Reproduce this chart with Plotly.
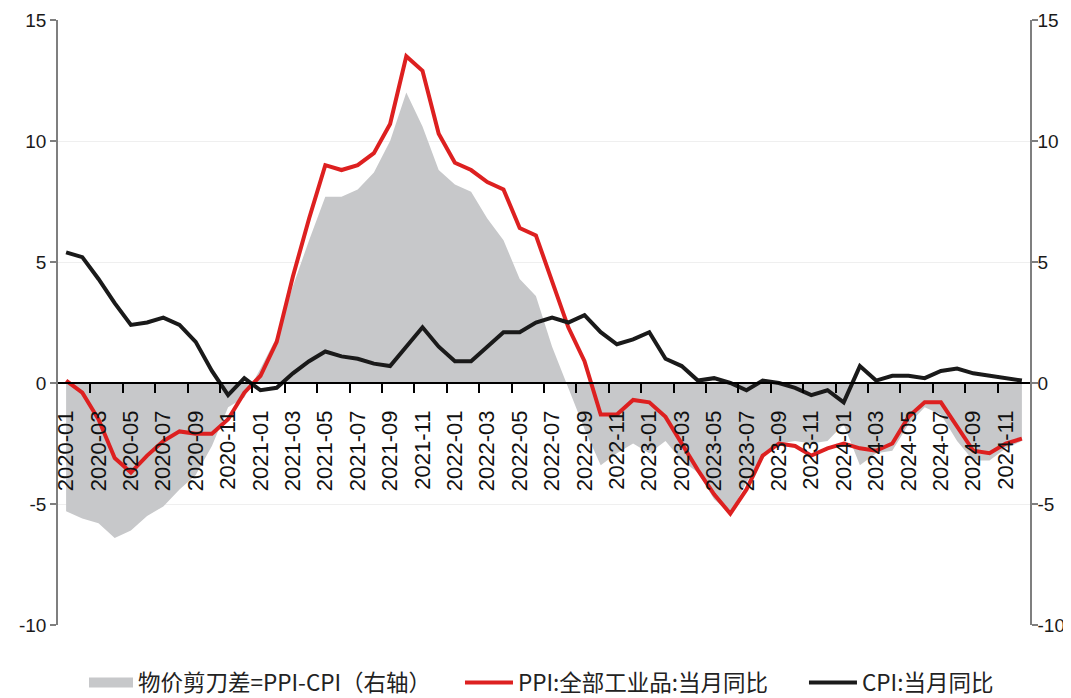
import pandas as pd
import plotly.graph_objects as go

# Monthly series, 2020-01 .. 2024-12
months = [p.strftime("%Y-%m") for p in pd.period_range("2020-01", "2024-12", freq="M")]

# PPI: industrial products, YoY (%)
ppi = [0.1, -0.4, -1.5, -3.1, -3.7, -3.0, -2.4, -2.0, -2.1, -2.1, -1.5, -0.4,
       0.3, 1.7, 4.4, 6.8, 9.0, 8.8, 9.0, 9.5, 10.7, 13.5, 12.9, 10.3,
       9.1, 8.8, 8.3, 8.0, 6.4, 6.1, 4.2, 2.3, 0.9, -1.3, -1.3, -0.7,
       -0.8, -1.4, -2.5, -3.6, -4.6, -5.4, -4.4, -3.0, -2.5, -2.6, -3.0, -2.7,
       -2.5, -2.7, -2.8, -2.5, -1.4, -0.8, -0.8, -1.8, -2.8, -2.9, -2.5, -2.3]

# CPI YoY (%)
cpi = [5.4, 5.2, 4.3, 3.3, 2.4, 2.5, 2.7, 2.4, 1.7, 0.5, -0.5, 0.2,
       -0.3, -0.2, 0.4, 0.9, 1.3, 1.1, 1.0, 0.8, 0.7, 1.5, 2.3, 1.5,
       0.9, 0.9, 1.5, 2.1, 2.1, 2.5, 2.7, 2.5, 2.8, 2.1, 1.6, 1.8,
       2.1, 1.0, 0.7, 0.1, 0.2, 0.0, -0.3, 0.1, 0.0, -0.2, -0.5, -0.3,
       -0.8, 0.7, 0.1, 0.3, 0.3, 0.2, 0.5, 0.6, 0.4, 0.3, 0.2, 0.1]

# price scissors gap PPI-CPI (right axis)
gap = [-5.3, -5.6, -5.8, -6.4, -6.1, -5.5, -5.1, -4.4, -3.8, -2.6, -1.0, -0.6,
       0.6, 1.9, 4.0, 5.9, 7.7, 7.7, 8.0, 8.7, 10.0, 12.0, 10.6, 8.8,
       8.2, 7.9, 6.8, 5.9, 4.3, 3.6, 1.5, -0.2, -1.9, -3.4, -2.9, -2.5,
       -2.9, -2.4, -3.2, -3.7, -4.8, -5.4, -4.1, -3.1, -2.5, -2.4, -2.5, -2.4,
       -1.7, -3.4, -2.9, -2.8, -1.7, -1.0, -1.3, -2.4, -3.2, -3.2, -2.7, -2.4]

y_ticks = [-10, -5, 0, 5, 10, 15]
y_text = ["-10", "-5", "0", "5", "10", "15"]

idx = list(range(len(months)))
GRAY = "#c7c8ca"
RED = "#dd2020"
BLACK = "#1a1a1a"
FONT = "Liberation Sans, Arial, sans-serif"
CJK = "Noto Sans CJK SC"

fig = go.Figure()

# gap area on the right axis (base axis, so it stays under the lines)
fig.add_trace(go.Scatter(x=idx, y=gap, mode="lines", fill="tozeroy",
                         fillcolor=GRAY, line=dict(width=0, color=GRAY),
                         showlegend=False, hoverinfo="skip"))
# legend entry for the area
fig.add_trace(go.Scatter(x=[None], y=[None], mode="lines",
                         line=dict(width=10, color=GRAY),
                         name="物价剪刀差=PPI-CPI（右轴）", legend="legend"))

fig.add_trace(go.Scatter(x=idx, y=ppi, mode="lines", yaxis="y2",
                         line=dict(color=RED, width=4),
                         name="PPI:全部工业品:当月同比", legend="legend2"))
fig.add_trace(go.Scatter(x=idx, y=cpi, mode="lines", yaxis="y2",
                         line=dict(color=BLACK, width=4),
                         name="CPI:当月同比", legend="legend3"))

yax = dict(range=[-10, 15], tickvals=y_ticks, ticktext=y_text,
           ticks="outside", ticklen=6, tickcolor="#7f7f7f", tickwidth=1.5,
           showline=True, linecolor="#7f7f7f", linewidth=1.5, automargin=False,
           zeroline=False, tickfont=dict(family=FONT, size=19, color="#1a1a1a"))

leg = dict(orientation="h", xref="container", yref="container",
           y=0.022, xanchor="left", yanchor="middle",
           font=dict(family=CJK, size=22.5, color="#222"))

# the page adds an 8px body margin, so the figure is sized to fit the window
fig.update_layout(
    width=1063, height=690,
    margin=dict(l=50, r=41, t=12, b=73, autoexpand=False),
    plot_bgcolor="white", paper_bgcolor="white",
    xaxis=dict(
        range=[-0.5, 59.5], anchor="free", position=0.4, automargin=False,
        tickvals=idx[::2], ticktext=months[::2], tickangle=-90,
        ticks="outside", ticklen=18, tickcolor="rgba(0,0,0,0)",
        minor=dict(tickvals=[i + 1.5 for i in idx[::2][:-1]], ticks="outside",
                   ticklen=9, tickcolor="black", tickwidth=1.5, showgrid=False),
        showline=True, linecolor="black", linewidth=1.5,
        showgrid=False, zeroline=False,
        tickfont=dict(family=FONT, size=22, color="#111"),
    ),
    yaxis=dict(side="right", showgrid=True, gridcolor="#efefef", gridwidth=1,
               ticklabelstandoff=-4, **yax),
    yaxis2=dict(side="left", overlaying="y", showgrid=False, **yax),
    legend=dict(x=0.0715, itemwidth=44, **leg),
    legend2=dict(x=0.4252, itemwidth=48, **leg),
    legend3=dict(x=0.7488, itemwidth=48, **leg),
)

fig.write_html("out.html")
